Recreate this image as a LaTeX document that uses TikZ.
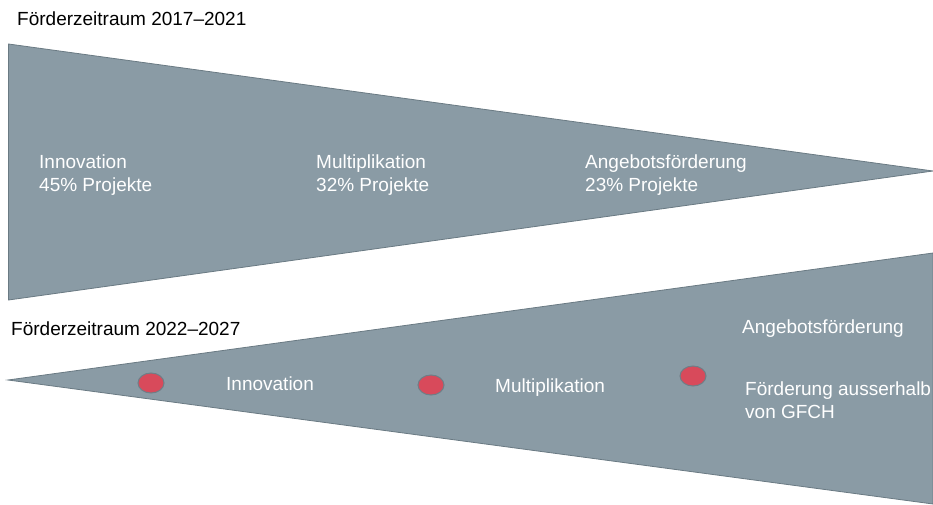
\documentclass[tikz,border=0pt]{standalone}
\usepackage{fontspec}
\setmainfont{Liberation Sans}
\usetikzlibrary{shapes.geometric}
\definecolor{wedgefill}{HTML}{8A9BA5}
\definecolor{wedgeline}{HTML}{6A7A83}
\definecolor{dotfill}{HTML}{D84A5B}
\definecolor{dotline}{HTML}{6F7E87}
\begin{document}
\begin{tikzpicture}[x=1pt,y=-1pt,
  wedge/.style={fill=wedgefill,draw=wedgeline,line width=0.8pt,line join=miter},
  marker/.style={ellipse,fill=dotfill,draw=dotline,line width=1pt,minimum width=26pt,minimum height=20pt,inner sep=0pt},
  label/.style={anchor=base west,inner sep=0pt,font=\fontsize{19pt}{23pt}\selectfont,align=left},
  title/.style={label,text=black},
  inside/.style={label,text=white}]
\useasboundingbox (0,0) rectangle (933,505);
\fill[white] (0,0) rectangle (933,505);

% closing wedge, funding period 2017-2021
\draw[wedge] (8.5,44) -- (933,171) -- (8.5,300) -- cycle;
% opening wedge, funding period 2022-2027
\draw[wedge] (8,380) -- (933,253) -- (933,504) -- cycle;

\node[title] (t1) at (17,26) {Förderzeitraum 2017–2021};
\node[title] (t2) at (11,335) {Förderzeitraum 2022–2027};

% two-line labels are placed by the baseline of their last line
\node[inside] (a1) at (39,191) {Innovation\\45\% Projekte};
\node[inside] (a2) at (316,191) {Multiplikation\\32\% Projekte};
\node[inside] (a3) at (585,191) {Angebotsförderung\\23\% Projekte};

\node[marker] (d1) at (151,383) {};
\node[marker] (d2) at (431,385) {};
\node[marker] (d3) at (693,376) {};

\node[inside] (b1) at (226,390) {Innovation};
\node[inside] (b2) at (495,392) {Multiplikation};
\node[inside] (b3) at (742,333) {Angebotsförderung};
\node[inside] (b4) at (745,418) {Förderung ausserhalb\\von GFCH};
\end{tikzpicture}
\end{document}
